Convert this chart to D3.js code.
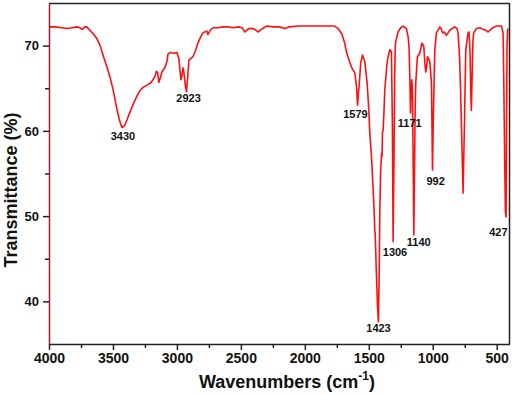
<!DOCTYPE html>
<html>
<head>
<meta charset="utf-8">
<script src="https://cdn.jsdelivr.net/npm/d3@7"></script>
<style>
  html, body { margin: 0; padding: 0; background: #fff; }
  svg { display: block; font-family: "Liberation Sans", Arial, sans-serif; }
</style>
</head>
<body>
<svg id="chart" width="512" height="395"></svg>
<script>
// ---- data ----
const wavenumbers = [4000,3950,3900,3860,3820,3780,3760,3742,3720,3705,3680,3650,3625,3600,3578,3550,3523,3500,3470,3450,3430,3410,3390,3367,3340,3312,3290,3265,3230,3200,3175,3160,3150,3141,3130,3117,3095,3078,3070,3050,3020,3000,2985,2969,2960,2953,2945,2933,2925,2915,2906,2875,2855,2836,2815,2797,2766,2758,2740,2719,2680,2640,2600,2560,2520,2490,2469,2440,2406,2380,2367,2340,2297,2250,2200,2156,2120,2050,1950,1850,1766,1740,1711,1690,1672,1650,1633,1609,1595,1588,1580,1570,1563,1549,1531,1513,1500,1492,1479,1466,1458,1453,1450,1446,1440,1432,1425,1418,1414,1408,1400,1396,1393,1388,1382,1375,1360,1352,1336,1323,1315,1310,1304,1298,1292,1271,1250,1232,1206,1192,1185,1178,1174,1169,1164,1159,1153,1148,1143,1138,1133,1120,1102,1084,1070,1062,1055,1048,1041,1030,1023,1010,1002,995,984,971,945,935,924,910,893,880,867,828,810,802,790,784,773,763,752,742,724,716,708,702,698,693,686,680,659,630,607,585,568,540,502,463,450,444,437,432,427,423,419,414];
const transmittance = [72.2,72.2,72.1,72.0,72.1,72.2,72.1,71.9,72.2,72.2,71.8,71.3,70.8,70.0,68.9,67.6,66.3,64.9,62.6,61.3,60.4,60.6,61.3,62.2,63.2,64.1,64.7,65.1,65.4,65.7,66.3,67.0,66.8,65.7,66.2,66.9,67.4,68.1,69.0,69.2,69.1,69.2,68.5,66.0,66.5,67.4,66.8,65.2,64.6,66.5,68.3,68.7,69.4,70.3,71.0,71.5,71.7,71.3,71.8,72.1,72.1,72.2,72.2,72.1,72.2,72.1,71.6,72.0,72.0,71.8,71.6,71.9,72.3,72.2,72.2,72.0,72.2,72.3,72.3,72.3,72.3,72.0,71.4,70.4,69.1,68.1,67.4,66.8,65.0,63.0,64.5,66.5,68.0,68.9,68.1,65.6,62.5,59.7,57.0,53.1,50.5,48.2,48.0,46.0,43.0,39.5,37.6,44.0,50.5,55.0,57.4,57.0,59.9,60.0,62.0,64.8,67.5,68.5,69.5,69.3,60.0,47.0,55.0,66.0,70.3,71.6,72.1,72.3,72.0,71.0,69.7,65.5,62.1,65.0,66.0,64.8,56.0,47.8,55.0,62.0,65.6,68.7,69.1,70.3,69.9,68.0,66.9,67.5,68.7,68.4,68.1,65.6,55.4,62.0,69.5,71.5,72.2,72.0,71.5,71.6,71.2,71.5,71.8,72.2,72.0,71.5,68.5,65.6,59.0,52.7,61.0,69.5,71.5,71.6,69.0,64.0,62.4,66.0,70.5,71.5,72.0,72.1,71.9,71.8,71.6,72.0,72.3,72.3,71.5,65.0,56.0,50.5,49.9,60.0,70.0,72.0];

const xTicks = [4000,3500,3000,2500,2000,1500,1000,500];
const xMinorTicks = [3750,3250,2750,2250,1750,1250,750];
const yTicks = [40,50,60,70];
const yMinorTicks = [45,55,65];

const peakLabels = ["3430","2923","1579","1171","992","1423","1306","1140","427"];
const peakLabelWavenumbers = [3422,2909,1604,1180,977,1424,1295,1109,487];
const peakLabelValues = [58.9,63.4,61.5,60.4,53.65,36.35,45.35,46.5,47.7];

// ---- layout ----
const svg = d3.select("#chart");
const mLeft = 49, mRight = 509.5, mTop = 3, mBottom = 344;

const x = d3.scaleLinear().domain([4000, 400]).range([mLeft, mRight]);
const y = d3.scaleLinear().domain([35, 75]).range([mBottom, mTop]);

// spectrum
const pts = wavenumbers.map((w, i) => [w, transmittance[i]]);
const line = d3.line().x(d => x(d[0])).y(d => y(d[1]));
svg.append("path").datum(pts)
  .attr("d", line)
  .attr("fill", "none")
  .attr("stroke", "#ff1010")
  .attr("stroke-width", 1.6)
  .attr("stroke-linejoin", "round");

// frame (top and right)
svg.append("line").attr("x1", mLeft).attr("x2", mRight).attr("y1", mTop + 0.5).attr("y2", mTop + 0.5)
  .attr("stroke", "#222").attr("stroke-width", 1.5);
svg.append("line").attr("x1", mRight).attr("x2", mRight).attr("y1", mTop).attr("y2", mBottom)
  .attr("stroke", "#222").attr("stroke-width", 1.5);

// x axis
const xAxis = svg.append("g").attr("transform", `translate(0,${mBottom})`)
  .call(d3.axisBottom(x).tickValues(xTicks).tickFormat(d3.format("d")).tickSize(6).tickSizeOuter(0));
xAxis.select(".domain").attr("stroke", "#222").attr("stroke-width", 1.5);
xAxis.selectAll(".tick line").attr("stroke", "#222").attr("stroke-width", 1.5);
xAxis.selectAll(".tick text").attr("font-size", 14).attr("font-weight", "bold").attr("fill", "#111")
  .attr("font-family", "Liberation Sans, Arial, sans-serif").attr("dy", "0.95em").attr("y", 6);
const xMinor = svg.append("g").attr("transform", `translate(0,${mBottom})`)
  .call(d3.axisBottom(x).tickValues(xMinorTicks).tickFormat("").tickSize(4).tickSizeOuter(0));
xMinor.select(".domain").remove();
xMinor.selectAll(".tick line").attr("stroke", "#222").attr("stroke-width", 1.5);

// y axis
const yAxis = svg.append("g").attr("transform", `translate(${mLeft},0)`)
  .call(d3.axisLeft(y).tickValues(yTicks).tickFormat(d3.format("d")).tickSize(6).tickSizeOuter(0));
yAxis.select(".domain").attr("stroke", "#a01a2c").attr("stroke-width", 1.5);
yAxis.selectAll(".tick line").attr("stroke", "#222").attr("stroke-width", 1.5);
yAxis.selectAll(".tick text").attr("font-size", 13).attr("font-weight", "bold").attr("fill", "#111")
  .attr("font-family", "Liberation Sans, Arial, sans-serif").attr("x", -10);
const yMinor = svg.append("g").attr("transform", `translate(${mLeft},0)`)
  .call(d3.axisLeft(y).tickValues(yMinorTicks).tickFormat("").tickSize(4).tickSizeOuter(0));
yMinor.select(".domain").remove();
yMinor.selectAll(".tick line").attr("stroke", "#222").attr("stroke-width", 1.5);

// peak labels
svg.append("g").selectAll("text").data(peakLabels).join("text")
  .attr("x", (d, i) => x(peakLabelWavenumbers[i]))
  .attr("y", (d, i) => y(peakLabelValues[i]))
  .attr("text-anchor", "middle")
  .attr("font-size", 11)
  .attr("font-weight", "bold")
  .attr("fill", "#111")
  .text(d => d);

// axis titles
const xt = svg.append("text")
  .attr("x", 287).attr("y", 388)
  .attr("text-anchor", "middle")
  .attr("font-size", 18).attr("font-weight", "bold").attr("fill", "#111");
xt.append("tspan").text("Wavenumbers (cm");
xt.append("tspan").attr("font-size", 12).attr("dy", -8).text("-1");
xt.append("tspan").attr("dy", 8).text(")");

svg.append("text")
  .attr("transform", "translate(16.5,190) rotate(-90)")
  .attr("text-anchor", "middle")
  .attr("font-size", 18).attr("font-weight", "bold").attr("fill", "#111")
  .text("Transmittance (%)");
</script>
</body>
</html>
